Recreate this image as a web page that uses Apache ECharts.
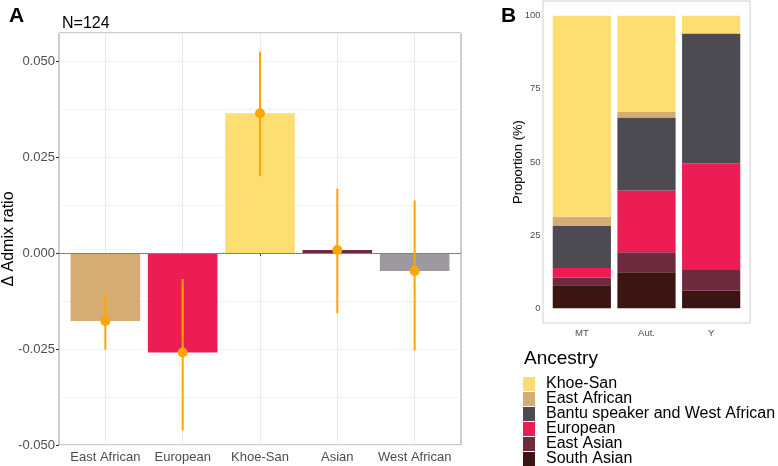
<!DOCTYPE html>
<html>
<head>
<meta charset="utf-8">
<script src="https://cdn.jsdelivr.net/npm/echarts@6/dist/echarts.min.js"></script>
<style>
  html, body { margin: 0; padding: 0; background: #fff; }
  #main { width: 778px; height: 466px; }
</style>
</head>
<body>
<div id="main"></div>
<script>
// panel A: change in admixture ratio
var groupsA = ['East African', 'European', 'Khoe-San', 'Asian', 'West African'];
var deltaA = [-0.0177, -0.0259, 0.0364, 0.0008, -0.0047];
var lowA = [-0.0252, -0.0462, 0.0200, -0.0157, -0.0253];
var highA = [-0.0107, -0.0068, 0.0524, 0.0168, 0.0137];
var colorsA = ['#D5AD73', '#EC1C55', '#FCDE72', '#6E2A3E', '#9C9A9E'];

// panel B: ancestry proportions (%), bottom to top of the stack
var markersB = ['MT', 'Aut.', 'Y'];
var ancestries = ['South Asian', 'East Asian', 'European', 'Bantu speaker and West African', 'East African', 'Khoe-San'];
var southAsian = [7.9, 12.3, 6.0];
var eastAsian = [2.6, 6.9, 7.1];
var european = [3.3, 21.1, 36.5];
var bantu = [14.3, 24.9, 44.3];
var eastAfrican = [3.2, 1.9, 0];
var khoeSan = [68.7, 32.9, 6.1];
var colorsB = ['#3B1511', '#6E2A3E', '#EC1C55', '#4B4B51', '#D5AD73', '#FCDE72'];

var font = 'Liberation Sans, Arial, Helvetica, sans-serif';
var chart = echarts.init(document.getElementById('main'), null, { renderer: 'canvas' });

var valuesB = [southAsian, eastAsian, european, bantu, eastAfrican, khoeSan];
var stackSeries = ancestries.map(function (name, i) {
  return {
    name: name,
    type: 'bar',
    stack: 'all',
    xAxisIndex: 3,
    yAxisIndex: 4,
    barCategoryGap: '10%',
    itemStyle: { color: colorsB[i] },
    data: valuesB[i]
  };
});

var errData = groupsA.map(function (g, i) { return [i, deltaA[i], lowA[i], highA[i]]; });

var yMinA = -0.05, yMaxA = 0.0573;
var hidden = { show: false };

var option = {
  animation: false,
  textStyle: { fontFamily: font },
  title: [
    { text: 'A', left: 4, top: 1, textStyle: { fontSize: 21, fontWeight: 'bold', color: '#000', fontFamily: font } },
    { text: 'N=124', left: 57, top: 11, textStyle: { fontSize: 16, fontWeight: 'normal', color: '#000', fontFamily: font } },
    { text: 'B', left: 496, top: 1, textStyle: { fontSize: 21, fontWeight: 'bold', color: '#000', fontFamily: font } },
    { text: 'Ancestry', left: 519, top: 344, textStyle: { fontSize: 19, fontWeight: 'normal', color: '#000', fontFamily: font } }
  ],
  legend: {
    data: ancestries.slice().reverse(),
    orient: 'vertical',
    left: 523,
    top: 376,
    height: 120,
    padding: 0,
    itemWidth: 12,
    itemHeight: 14,
    itemGap: -1,
    icon: 'rect',
    selectedMode: false,
    textStyle: { fontSize: 16, color: '#000', fontFamily: font, padding: [0, 0, 0, 6] }
  },
  grid: [
    // outer frame of panel A
    { left: 59, right: 317, top: 33, bottom: 21, outerBoundsMode: 'none', containLabel: false, show: true, borderColor: '#9a9a9a', borderWidth: 1, backgroundColor: 'transparent' },
    // categories of panel A (discrete expansion inside the frame)
    { left: 66.7, right: 324.7, top: 33, bottom: 21, outerBoundsMode: 'none', containLabel: false },
    // outer frame of panel B
    { left: 543, right: 28, top: 1, bottom: 143, outerBoundsMode: 'none', containLabel: false, show: true, borderColor: '#cfcfcf', borderWidth: 1, backgroundColor: 'transparent' },
    // categories of panel B
    { left: 549.5, right: 34.5, top: 1, bottom: 143, outerBoundsMode: 'none', containLabel: false }
  ],
  xAxis: [
    { type: 'value', gridIndex: 0, min: 0, max: 1, show: false },
    {
      type: 'category', gridIndex: 1, data: groupsA,
      axisLine: { show: false },
      axisTick: { show: true, alignWithLabel: true, length: 3, lineStyle: { color: '#333' } },
      axisLabel: { fontSize: 13, color: '#4d4d4d', margin: 6, interval: 0 },
      splitLine: { show: true, alignWithLabel: true, lineStyle: { color: '#ebebeb', width: 1 } }
    },
    { type: 'value', gridIndex: 2, min: 0, max: 1, show: false },
    {
      type: 'category', gridIndex: 3, data: markersB,
      axisLine: { show: false },
      axisTick: { show: false },
      axisLabel: { fontSize: 9.5, color: '#4d4d4d', margin: 5, interval: 0 }
    }
  ],
  yAxis: [
    {
      type: 'value', gridIndex: 0, min: yMinA, max: yMaxA, interval: 0.025,
      name: 'Δ Admix ratio', nameLocation: 'middle', nameGap: 42, nameMoveOverlap: false,
      nameTextStyle: { fontSize: 16, color: '#000' },
      axisLine: { show: false },
      axisTick: { show: true, length: 3, lineStyle: { color: '#333' } },
      axisLabel: {
        fontSize: 13, color: '#4d4d4d', margin: 4, showMaxLabel: false,
        formatter: function (v) { return Math.abs(v) < 1e-9 ? '0.000' : v.toFixed(3); }
      },
      splitLine: { show: true, lineStyle: { color: '#ebebeb', width: 1 } }
    },
    {
      type: 'value', gridIndex: 0, min: yMinA, max: yMaxA, interval: 0.0125,
      axisLine: hidden, axisTick: hidden, axisLabel: hidden,
      splitLine: { show: true, lineStyle: { color: '#f2f2f2', width: 1 } }
    },
    { type: 'value', gridIndex: 1, min: yMinA, max: yMaxA, show: false },
    { type: 'value', gridIndex: 2, min: 0, max: 1, show: false },
    {
      type: 'value', gridIndex: 3, min: -5, max: 105, interval: 5,
      name: 'Proportion (%)', nameLocation: 'middle', nameGap: 25, nameMoveOverlap: false,
      nameTextStyle: { fontSize: 13, color: '#000' },
      axisLine: hidden, axisTick: hidden,
      axisLabel: {
        fontSize: 9.5, color: '#4d4d4d', margin: 9,
        formatter: function (v) { return Math.round(v) % 25 === 0 && v >= 0 && v <= 100 ? String(Math.round(v)) : ''; }
      },
      splitLine: hidden
    }
  ],
  series: [
    {
      // zero reference line across the whole panel
      type: 'line',
      xAxisIndex: 0,
      yAxisIndex: 0,
      z: 4,
      data: [],
      markLine: {
        silent: true,
        symbol: 'none',
        label: { show: false },
        lineStyle: { color: '#7f7f7f', width: 1.2, type: 'solid' },
        data: [{ yAxis: 0 }]
      }
    },
    {
      type: 'bar',
      xAxisIndex: 1,
      yAxisIndex: 2,
      barCategoryGap: '10%',
      z: 2,
      data: deltaA.map(function (v, i) { return { value: v, itemStyle: { color: colorsA[i] } }; })
    },
    {
      type: 'custom',
      xAxisIndex: 1,
      yAxisIndex: 2,
      z: 6,
      clip: false,
      data: errData,
      renderItem: function (params, api) {
        var x = api.value(0);
        var mid = api.coord([x, api.value(1)]);
        var lo = api.coord([x, api.value(2)]);
        var hi = api.coord([x, api.value(3)]);
        var c = '#FFA500';
        return {
          type: 'group',
          children: [
            { type: 'line', shape: { x1: lo[0], y1: lo[1], x2: hi[0], y2: hi[1] }, style: { stroke: c, lineWidth: 2 } },
            { type: 'circle', shape: { cx: mid[0], cy: mid[1], r: 5 }, style: { fill: c } }
          ]
        };
      }
    }
  ].concat(stackSeries)
};

chart.setOption(option);
</script>
</body>
</html>
